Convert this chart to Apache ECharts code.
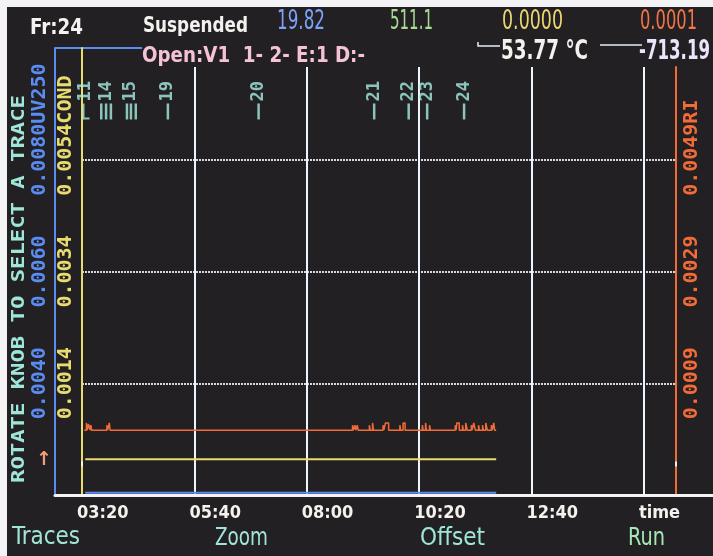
<!DOCTYPE html>
<html>
<head>
<meta charset="utf-8">
<script src="https://cdn.jsdelivr.net/npm/echarts@6/dist/echarts.min.js"></script>
<style>
  html, body { margin: 0; padding: 0; background: #232024; }
  #chart { width: 713px; height: 556px; }
</style>
</head>
<body>
<div id="chart"></div>
<script>
// ---- time axis (seconds since run start) ----
const timeTicks = [200, 340, 480, 620, 760, 900];
const timeTickLabels = ['03:20', '05:40', '08:00', '10:20', '12:40', 'time'];

// ---- detector scales: tick labels per gridline (bottom to top) ----
const uvTickLabels   = ['', '0.0040', '0.0060', '0.0080', ''];
const condTickLabels = ['', '0.0014', '0.0034', '0.0054', ''];
const riTickLabels   = ['', '0.0009', '0.0029', '0.0049', ''];

// ---- traces ----
const uvTime = [204, 716];
const uvValue = [0.00204, 0.00204];

const condTime = [204, 716];
const condValue = [0.00004, 0.00004];

const riTime = [203, 205.5, 206.5, 208, 209, 210, 211, 212,
  231, 232, 234, 235,
  537, 538, 540, 541, 543, 544,
  558, 559, 562, 563,
  575, 576, 578, 582,
  596, 597, 600, 602.5,
  624, 625, 628, 629, 633, 634,
  665, 666, 667, 670,
  674, 675, 678, 680,
  685, 686, 688, 690,
  694, 695,
  699, 700, 703, 705,
  710, 711, 713, 714, 716];
const riValue = [0.00006, 0.00019, 0.00006, 0.00017, 0.00019, 0.00006, 0.00015, 0.00006,
  0.00015, 0.00006, 0.00019, 0.00006,
  0.00015, 0.00006, 0.00015, 0.00006, 0.00015, 0.00006,
  0.00015, 0.00006, 0.00019, 0.00006,
  0.00015, 0.00006, 0.00019, 0.00006,
  0.00015, 0.00006, 0.00019, 0.00006,
  0.00015, 0.00006, 0.00019, 0.00006, 0.00015, 0.00006,
  0.00015, 0.00006, 0.00019, 0.00006,
  0.00015, 0.00006, 0.00019, 0.00006,
  0.00015, 0.00006, 0.00019, 0.00006,
  0.00015, 0.00006,
  0.00015, 0.00006, 0.00019, 0.00006,
  0.00015, 0.00006, 0.00019, 0.00006, 0.00006];

// ---- injection / event marks ----
const eventTimes  = [205, 224, 230, 236, 256, 261, 267, 307, 420, 564, 607, 630, 676];
const eventLabels = ['11', '', '14', '', '', '15', '', '19', '20', '21', '22', '23', '24'];

// ---- status readouts ----
const statusTexts = ['Fr:24', 'Suspended', '19.82', '511.1', '0.0000', '0.0001',
  'Open:V1  1- 2- E:1 D:-', '53.77 °C', '-713.19'];
const menuTexts = ['Traces', 'Zoom', 'Offset', 'Run'];
const hintText = 'ROTATE KNOB TO SELECT A TRACE';

// ---- look ----
const BG = '#232024';
const C_UV = '#5a8cf2', C_COND = '#e9dc6e', C_RI = '#f26c38', C_EVT = '#a6eee2';
const C_TEXT = '#f4f1ee', C_MENU = '#9fe6d8';
const NARROW = '"DejaVu Sans Condensed", "Liberation Sans Narrow", "DejaVu Sans", sans-serif';
const MONO = '"DejaVu Sans Mono", "Liberation Mono", monospace';
const EVENT_ROW = 0.858;   // vertical slot of the event marks (fraction of plot height)

const zip = (xs, ys) => xs.map((x, i) => [x, ys[i]]);

// fit a text run to a given on-screen width with a horizontal scale
const mctx = document.createElement('canvas').getContext('2d');
function fitScale(text, font, width) {
  mctx.font = font;
  return width / mctx.measureText(text).width;
}
function label(text, x, y, width, size, family, color, weight, extra) {
  const font = (weight ? weight + ' ' : '') + size + 'px ' + family;
  return Object.assign({
    type: 'text', x: x, y: y,
    scaleX: fitScale(text, font, width),
    style: { text: text, fill: color, font: font, align: 'left', verticalAlign: 'middle' }
  }, extra || {});
}

function yLabels(labels, name, color) {
  return {
    rotate: 90,
    color: color,
    fontFamily: MONO,
    fontWeight: 'bold',
    fontSize: 20,
    formatter: (v, i) => (i === 3 ? '{g|' + name + '}' + labels[i] + '{n|' + name + '}' : (labels[i] || '')),
    rich: {
      g: { color: 'rgba(0,0,0,0)', fontFamily: MONO, fontWeight: 'bold', fontSize: 20 },
      n: { color: color, fontFamily: MONO, fontWeight: 'bold', fontSize: 20 }
    }
  };
}

const chart = echarts.init(document.getElementById('chart'), null, { renderer: 'canvas' });

const graphics = [
  { type: 'rect', shape: { x: 0, y: 0, width: 713, height: 7 }, style: { fill: '#f3f3f5' } },
  { type: 'rect', shape: { x: 0, y: 0, width: 7, height: 556 }, style: { fill: '#f3f3f5' } },
  label(statusTexts[0], 30, 28, 53, 22, NARROW, C_TEXT, 'bold'),
  label(statusTexts[1], 143, 27, 105, 21, NARROW, C_TEXT, 'bold'),
  label(statusTexts[2], 277, 22, 48, 27, NARROW, '#7ba3f8'),
  label(statusTexts[3], 390, 22, 43, 27, NARROW, '#a9dc92'),
  label(statusTexts[4], 502, 22, 61, 27, NARROW, '#ecd76e'),
  label(statusTexts[5], 640, 22, 57, 27, NARROW, '#f47548'),
  label(statusTexts[6], 142, 56, 223, 22, NARROW, '#f6c2d8', 'bold'),
  label(statusTexts[7], 501, 52, 87, 26, NARROW, C_TEXT, 'bold'),
  label(statusTexts[8], 639, 52, 71, 26, NARROW, '#ece4fa', 'bold'),
  { type: 'line', shape: { x1: 55, y1: 48, x2: 142, y2: 48 }, style: { stroke: C_UV, lineWidth: 2 } },
  { type: 'polyline', shape: { points: [[478, 42], [478, 46], [500, 46]] }, style: { stroke: '#e6ecf6', lineWidth: 1.5, fill: null } },
  { type: 'line', shape: { x1: 600, y1: 45, x2: 642, y2: 45 }, style: { stroke: '#e6ecf6', lineWidth: 1.5 } },
  label(hintText, 19, 483, 388, 18, MONO, C_MENU, 'bold', { rotation: Math.PI / 2 }),
  { type: 'text', x: 44, y: 460, style: { text: '↑', fill: '#f59c7c', font: 'bold 19px "DejaVu Sans"', align: 'center', verticalAlign: 'middle' } },
  label(menuTexts[0], 12, 537, 68, 25, NARROW, C_MENU),
  label(menuTexts[1], 215, 538, 53, 25, NARROW, C_MENU),
  label(menuTexts[2], 420, 538, 65, 25, NARROW, C_MENU),
  label(menuTexts[3], 628, 538, 37, 25, NARROW, '#a4e8b4')
];

const option = {
  backgroundColor: BG,
  animation: false,
  grid: [
    { left: 82, right: 37, top: 48, bottom: 61 },
    { left: 82, right: 37, top: 67, bottom: 61 },
    { left: 55, right: 0, top: 48, bottom: 61 }
  ],
  xAxis: [
    {
      gridIndex: 0, type: 'value', min: 200, max: 940, interval: 140,
      axisLine: { show: false },
      axisTick: { show: true, length: 5, lineStyle: { color: C_TEXT, width: 2 } },
      axisLabel: {
        color: C_TEXT, fontFamily: NARROW, fontWeight: 'bold', fontSize: 18, margin: 9, align: 'left',
        padding: [0, 0, 0, -5],
        formatter: v => { const k = timeTicks.indexOf(Math.round(v)); return k >= 0 ? timeTickLabels[k] : ''; }
      },
      splitLine: { show: false }
    },
    {
      gridIndex: 1, type: 'value', min: 200, max: 940, interval: 140,
      axisLine: { show: false }, axisTick: { show: false }, axisLabel: { show: false },
      splitLine: { show: true, showMinLine: false, showMaxLine: false, lineStyle: { color: '#eef5ff', width: 2 } }
    },
    {
      gridIndex: 2, type: 'value', min: 0, max: 1,
      axisLine: { show: true, lineStyle: { color: '#f4f4f4', width: 3 } },
      axisTick: { show: false }, axisLabel: { show: false }, splitLine: { show: false }
    }
  ],
  yAxis: [
    { // COND
      gridIndex: 0, type: 'value', position: 'left', min: -0.0006, max: 0.0074, interval: 0.002,
      axisLine: { show: true, lineStyle: { color: C_COND, width: 2 } },
      axisTick: { show: false },
      axisLabel: Object.assign({ margin: 6 }, yLabels(condTickLabels, 'COND', C_COND)),
      splitLine: { show: true, showMinLine: false, showMaxLine: false, lineStyle: { color: '#d8d8e0', width: 2, type: [2, 1] } }
    },
    { // UV250
      gridIndex: 0, type: 'value', position: 'left', offset: 27, min: 0.002, max: 0.010, interval: 0.002,
      axisLine: { show: true, lineStyle: { color: C_UV, width: 2 } },
      axisTick: { show: false },
      axisLabel: Object.assign({ margin: 5 }, yLabels(uvTickLabels, 'UV250', C_UV)),
      splitLine: { show: false }
    },
    { // RI
      gridIndex: 0, type: 'value', position: 'right', min: -0.0011, max: 0.0069, interval: 0.002,
      axisLine: { show: false }, axisTick: { show: false },
      axisLabel: Object.assign({ margin: 6 }, yLabels(riTickLabels, 'RI', C_RI)),
      splitLine: { show: false }
    },
    { // RI axis line
      gridIndex: 1, type: 'value', position: 'right', min: 0, max: 1,
      axisLine: { show: true, lineStyle: { color: C_RI, width: 2 } },
      axisTick: { show: false }, axisLabel: { show: false }, splitLine: { show: false }
    },
    { gridIndex: 0, type: 'value', min: 0, max: 1, show: false },
    { gridIndex: 2, type: 'value', min: 0, max: 1, show: false }
  ],
  series: [
    {
      name: 'UV250', type: 'line', xAxisIndex: 0, yAxisIndex: 1, data: zip(uvTime, uvValue),
      symbol: 'none', lineStyle: { color: C_UV, width: 2 }, z: 3
    },
    {
      name: 'COND', type: 'line', xAxisIndex: 0, yAxisIndex: 0, data: zip(condTime, condValue),
      symbol: 'none', lineStyle: { color: C_COND, width: 2 }, z: 3
    },
    {
      name: 'RI', type: 'line', xAxisIndex: 0, yAxisIndex: 2, data: zip(riTime, riValue),
      step: 'end', symbol: 'none', lineStyle: { color: C_RI, width: 1.5 }, z: 3
    },
    {
      name: 'events', type: 'scatter', xAxisIndex: 0, yAxisIndex: 4, z: 4,
      data: eventTimes.map((t, i) => i === 0
        ? { value: [t, EVENT_ROW], symbol: 'path://M0 0H2V14H7V16H0Z', symbolSize: [7, 16] }
        : { value: [t, EVENT_ROW] }),
      symbol: 'rect', symbolSize: [2.5, 16],
      itemStyle: { color: C_EVT },
      label: {
        show: true, position: 'top', distance: 2, rotate: 90, align: 'left', verticalAlign: 'middle',
        color: C_EVT, fontFamily: MONO, fontWeight: 'bold', fontSize: 17,
        formatter: p => eventLabels[p.dataIndex]
      }
    }
  ],
  graphic: graphics
};

chart.setOption(option);
</script>
</body>
</html>
